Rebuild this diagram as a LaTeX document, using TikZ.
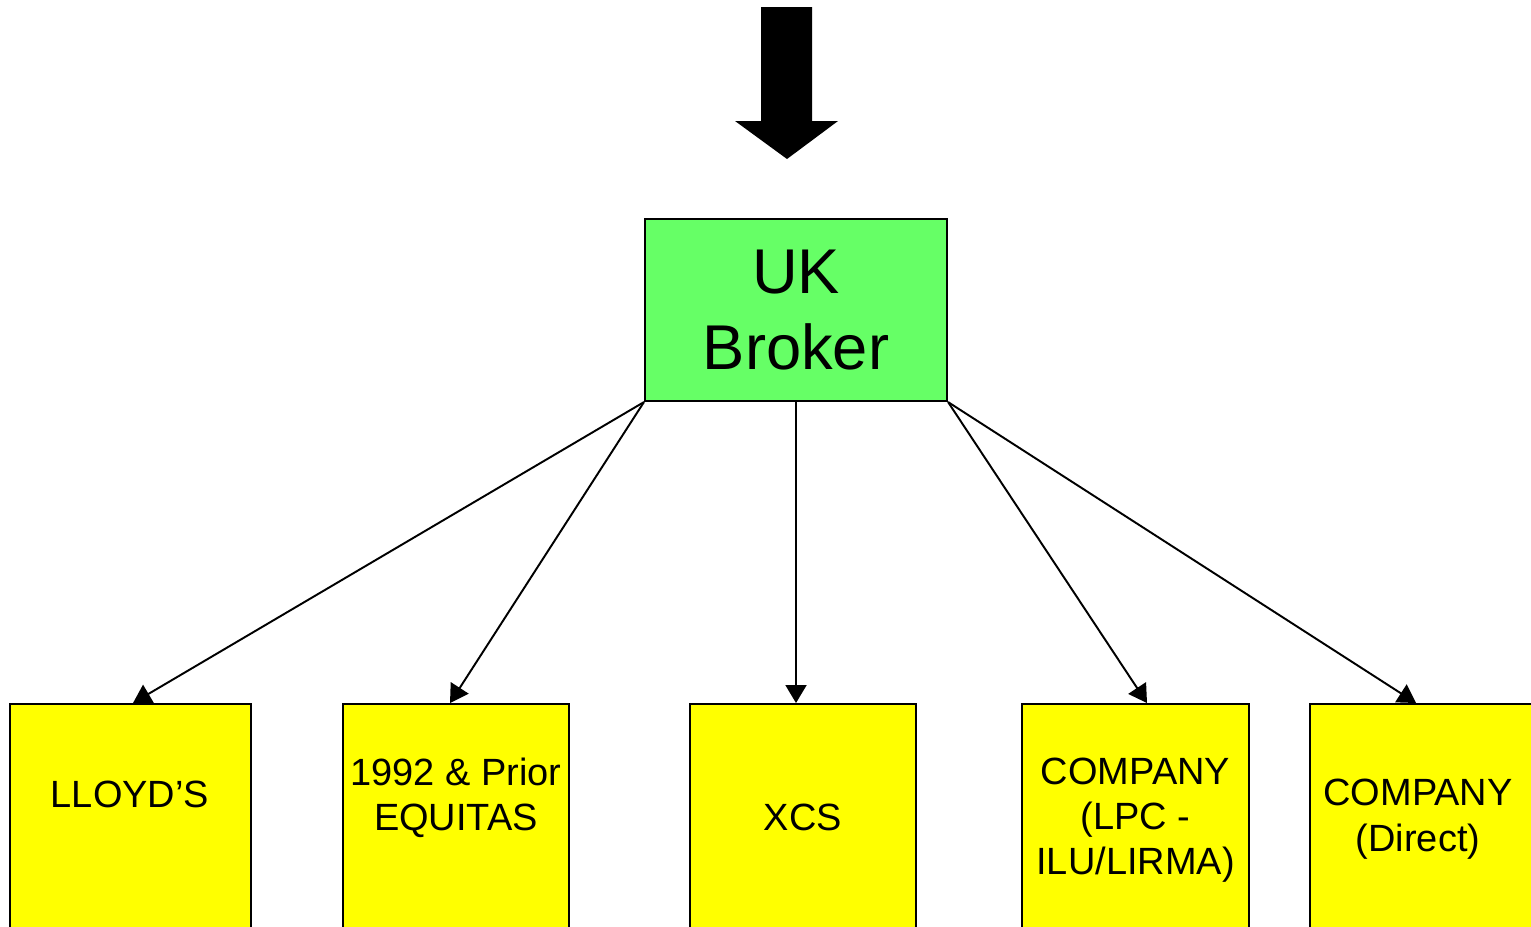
\documentclass[tikz,border=0pt]{standalone}
\usepackage{fontspec}
\setmainfont{Liberation Sans}
\usetikzlibrary{arrows.meta}
\definecolor{brokergreen}{HTML}{66FF66}
\definecolor{boxyellow}{HTML}{FFFF00}
\tikzset{
	broker/.style={draw, fill=brokergreen, line width=0.6pt, minimum width=3.02cm, minimum height=1.82cm, align=center, font=\fontsize{18}{21.6}\selectfont},
	ybox/.style={draw, fill=boxyellow, line width=0.6pt, anchor=north, minimum height=3cm},
	btext/.style={align=center, font=\fontsize{10.8}{12.9}\selectfont},
	link/.style={line width=0.55pt, -{Triangle[length=0.18cm,width=0.21cm]}}
}
\begin{document}
\begin{tikzpicture}
		\useasboundingbox (0,0) rectangle (15.31,-9.26);
		\clip (0,0) rectangle (15.31,-9.26);

		% block arrow on top
		\fill (7.61,-0.07) -- (8.12,-0.07) -- (8.12,-1.21) -- (8.38,-1.21) -- (7.87,-1.59) -- (7.35,-1.21) -- (7.61,-1.21) -- cycle;

		\node[broker] at (7.96, -3.10) (uk) {UK\\Broker};

		\node[ybox, minimum width=2.41cm] at (1.305, -7.03) (lloyds) {};
		\node[ybox, minimum width=2.26cm] at (4.56, -7.03) (equitas) {};
		\node[ybox, minimum width=2.26cm] at (8.03, -7.03) (xcs) {};
		\node[ybox, minimum width=2.27cm] at (11.355, -7.03) (lpc) {};
		\node[ybox, minimum width=2.40cm] at (14.30, -7.03) (direct) {};

		\node[btext] at (1.30, -7.94) (lloydstxt) {LLOYD’S};
		\node[btext] at (4.56, -7.98) (equitastxt) {1992 \& Prior\\EQUITAS};
		\node[btext] at (8.03, -8.17) (xcstxt) {XCS};
		\node[btext] at (11.355, -8.20) (lpctxt) {COMPANY\\(LPC -\\ILU/LIRMA)};
		\node[btext] at (14.18, -8.19) (directtxt) {COMPANY\\(Direct)};

		% draw edges
		\draw[link] (uk.south west) -- ([xshift=0.25mm]lloyds.north);
		\draw[link] (uk.south west) -- ([xshift=-0.6mm]equitas.north);
		\draw[link] (uk.south) -- ([xshift=-0.7mm]xcs.north);
		\draw[link] (uk.south east) -- ([xshift=1.15mm]lpc.north);
		\draw[link] (uk.south east) -- ([xshift=-1.4mm]direct.north);
		\end{tikzpicture}
\end{document}
